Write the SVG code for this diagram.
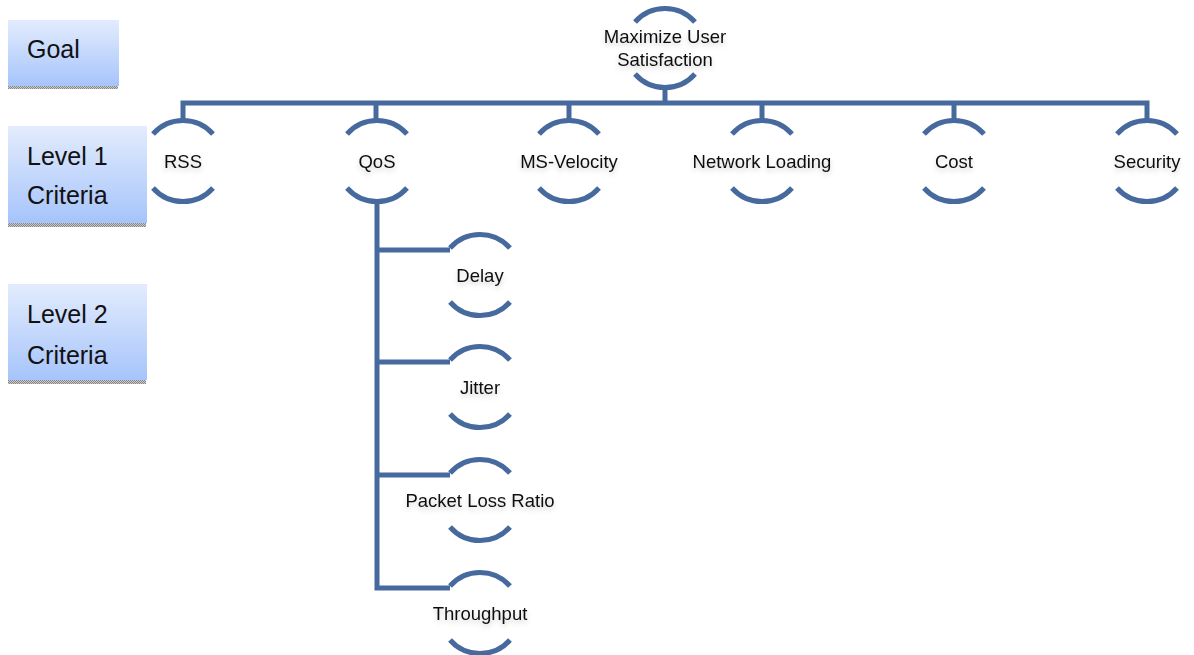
<svg xmlns="http://www.w3.org/2000/svg" width="1194" height="655" viewBox="0 0 1194 655">
  <style>
    .arc { fill: none; stroke: #46699e; stroke-width: 5; stroke-linecap: butt; }
    .wire { fill: none; stroke: #46699e; stroke-width: 5; stroke-linejoin: miter; }
    .lbl { font-family: "Liberation Sans", Arial, sans-serif; font-size: 18.5px; fill: #111; text-anchor: middle; filter: url(#soft); }
    .lvl { font-family: "Liberation Sans", Arial, sans-serif; font-size: 25px; fill: #111; }
    .box { fill: url(#boxfill); }
    .edge { fill: url(#dots); }
  </style>
  <defs>
    <linearGradient id="boxfill" x1="0" y1="0" x2="0" y2="1">
      <stop offset="0" stop-color="#e3ecfd"/>
      <stop offset="1" stop-color="#a6c4fb"/>
    </linearGradient>
    <pattern id="dots" width="2" height="2" patternUnits="userSpaceOnUse">
      <rect width="2" height="2" fill="#c8c8c8"/>
      <rect width="1" height="1" fill="#888"/>
      <rect x="1" y="1" width="1" height="1" fill="#888"/>
    </pattern>
    <filter id="soft" x="-20%" y="-40%" width="140%" height="200%">
      <feDropShadow dx="0" dy="3" stdDeviation="2.5" flood-color="#000" flood-opacity="0.18"/>
    </filter>
  </defs>

  <rect width="1194" height="655" fill="#fff"/>

  <!-- level captions -->
  <g id="goal-caption">
    <rect class="box" x="8" y="20" width="111" height="66"/>
    <rect class="edge" x="8" y="86" width="110" height="3"/>
    <text class="lvl" x="27" y="58">Goal</text>
  </g>
  <g id="level1-caption">
    <rect class="box" x="8" y="126" width="139" height="97"/>
    <rect class="edge" x="8" y="223" width="138" height="4"/>
    <text class="lvl" x="27" y="165">Level 1</text>
    <text class="lvl" x="27" y="204">Criteria</text>
  </g>
  <g id="level2-caption">
    <rect class="box" x="8" y="284" width="139" height="96"/>
    <rect class="edge" x="8" y="380" width="138" height="4"/>
    <text class="lvl" x="27" y="323">Level 2</text>
    <text class="lvl" x="27" y="364">Criteria</text>
  </g>

  <!-- connectors -->
  <g id="connectors">
    <path class="wire" d="M665 88 V103"/>
    <path class="wire" d="M183 121 V103 H1147 V121"/>
    <path class="wire" d="M376 103 V121"/>
    <path class="wire" d="M569 103 V121"/>
    <path class="wire" d="M762 103 V121"/>
    <path class="wire" d="M954 103 V121"/>
    <path class="wire" d="M377 201 V588 H450"/>
    <path class="wire" d="M377 250 H450"/>
    <path class="wire" d="M377 362 H450"/>
    <path class="wire" d="M377 475 H450"/>
  </g>

  <!-- goal -->
  <g id="node-goal">
    <path class="arc" d="M635 22 A40 40 0 0 1 695 22"/>
    <path class="arc" d="M635 74 A40 40 0 0 0 695 74"/>
    <text class="lbl" x="665" y="43">Maximize User</text>
    <text class="lbl" x="665" y="66">Satisfaction</text>
  </g>

  <!-- level 1 criteria -->
  <g id="node-rss">
    <path class="arc" d="M153 134 A40 40 0 0 1 213 134"/>
    <path class="arc" d="M153 188 A40 40 0 0 0 213 188"/>
    <text class="lbl" x="183" y="168">RSS</text>
  </g>
  <g id="node-qos">
    <path class="arc" d="M347 134 A40 40 0 0 1 407 134"/>
    <path class="arc" d="M347 188 A40 40 0 0 0 407 188"/>
    <text class="lbl" x="377" y="168">QoS</text>
  </g>
  <g id="node-ms-velocity">
    <path class="arc" d="M539 134 A40 40 0 0 1 599 134"/>
    <path class="arc" d="M539 188 A40 40 0 0 0 599 188"/>
    <text class="lbl" x="569" y="168">MS-Velocity</text>
  </g>
  <g id="node-network-loading">
    <path class="arc" d="M732 134 A40 40 0 0 1 792 134"/>
    <path class="arc" d="M732 188 A40 40 0 0 0 792 188"/>
    <text class="lbl" x="762" y="168">Network Loading</text>
  </g>
  <g id="node-cost">
    <path class="arc" d="M924 134 A40 40 0 0 1 984 134"/>
    <path class="arc" d="M924 188 A40 40 0 0 0 984 188"/>
    <text class="lbl" x="954" y="168">Cost</text>
  </g>
  <g id="node-security">
    <path class="arc" d="M1117 134 A40 40 0 0 1 1177 134"/>
    <path class="arc" d="M1117 188 A40 40 0 0 0 1177 188"/>
    <text class="lbl" x="1147" y="168">Security</text>
  </g>

  <!-- level 2 criteria -->
  <g id="node-delay">
    <path class="arc" d="M450 248 A40 40 0 0 1 510 248"/>
    <path class="arc" d="M450 302 A40 40 0 0 0 510 302"/>
    <text class="lbl" x="480" y="282">Delay</text>
  </g>
  <g id="node-jitter">
    <path class="arc" d="M450 360 A40 40 0 0 1 510 360"/>
    <path class="arc" d="M450 414 A40 40 0 0 0 510 414"/>
    <text class="lbl" x="480" y="394">Jitter</text>
  </g>
  <g id="node-packet-loss">
    <path class="arc" d="M450 473 A40 40 0 0 1 510 473"/>
    <path class="arc" d="M450 527 A40 40 0 0 0 510 527"/>
    <text class="lbl" x="480" y="507">Packet Loss Ratio</text>
  </g>
  <g id="node-throughput">
    <path class="arc" d="M450 586 A40 40 0 0 1 510 586"/>
    <path class="arc" d="M450 640 A40 40 0 0 0 510 640"/>
    <text class="lbl" x="480" y="620">Throughput</text>
  </g>
</svg>
